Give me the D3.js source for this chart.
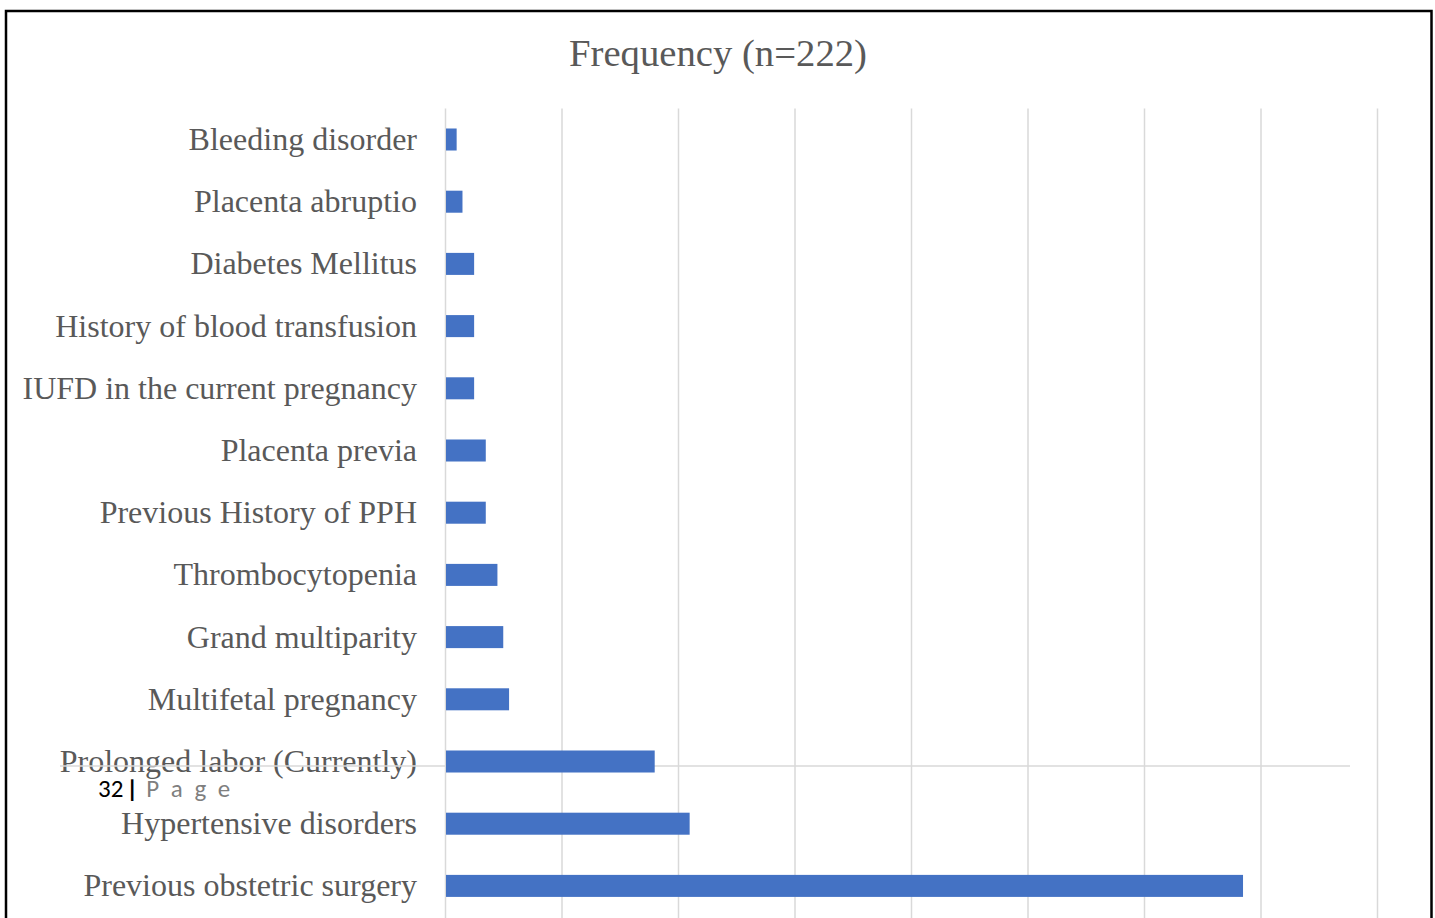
<!DOCTYPE html>
<html>
<head>
<meta charset="utf-8">
<script src="https://cdnjs.cloudflare.com/ajax/libs/d3/7.8.5/d3.min.js"></script>
<style>
  html, body { margin: 0; padding: 0; background: #fff; overflow: hidden; }
</style>
</head>
<body>
<div id="graphique"></div>
<script>
//----------------------------------------------------------------
// donnees du graphique
var titre = "Frequency (n=222)";
var categories = [
  "Bleeding disorder",
  "Placenta abruptio",
  "Diabetes Mellitus",
  "History of blood transfusion",
  "IUFD in the current pregnancy",
  "Placenta previa",
  "Previous History of PPH",
  "Thrombocytopenia",
  "Grand multiparity",
  "Multifetal pregnancy",
  "Prolonged labor (Currently)",
  "Hypertensive disorders",
  "Previous obstetric surgery"
];
var frequences = [2, 3, 5, 5, 5, 7, 7, 9, 10, 11, 36, 42, 137];
var graduations = [0, 20, 40, 60, 80, 100, 120, 140, 160];
var piedDePage = ["32", "|", "P a g e"];

//----------------------------------------------------------------
// svg
var largeur = 1435, hauteur = 918;
var svg = d3.select("#graphique")
  .append("svg")
  .attr("width", largeur)
  .attr("height", hauteur);

var marge = {gauche: 445, droite: 1377, haut: 108.4, bas: 917};

var x = d3.scaleLinear()
  .domain([0, 160])
  .range([marge.gauche, marge.droite]);

var y = d3.scaleBand()
  .domain(categories)
  .range([marge.haut, marge.bas])
  .paddingInner(0.646)
  .paddingOuter(0.323);

// cadre
svg.append("rect")
  .attr("x", 6)
  .attr("y", 11)
  .attr("width", 1425.5)
  .attr("height", 940)
  .attr("fill", "none")
  .attr("stroke", "#000")
  .attr("stroke-width", 2.5);

// titre
svg.append("text")
  .attr("x", 718)
  .attr("y", 66)
  .attr("text-anchor", "middle")
  .attr("font-family", "Liberation Serif, Times New Roman, serif")
  .attr("font-size", "38.7px")
  .attr("fill", "#595959")
  .text(titre);

// grille verticale
svg.append("g")
  .attr("transform", "translate(0," + marge.haut + ")")
  .call(d3.axisBottom(x).tickValues(graduations).tickSize(hauteur).tickFormat(""))
  .call(function(g){ g.select(".domain").remove(); })
  .selectAll("line")
  .attr("stroke", "#d9d9d9")
  .attr("stroke-width", 1.5);

// labels des categories
svg.append("g")
  .attr("transform", "translate(" + (x(0) - 28) + ",0)")
  .call(d3.axisLeft(y).tickSize(0).tickPadding(0))
  .call(function(g){ g.select(".domain").remove(); })
  .selectAll("text")
  .attr("font-family", "Liberation Serif, Times New Roman, serif")
  .attr("font-size", "32px")
  .attr("fill", "#595959")
  .attr("dy", "0.33em");

// ligne du pied de page qui traverse le graphique
svg.append("line")
  .attr("x1", 60)
  .attr("x2", 1350)
  .attr("y1", 766)
  .attr("y2", 766)
  .attr("stroke", "#d9d9d9")
  .attr("stroke-width", 1.5);

// barres
svg.selectAll(".barre")
  .data(frequences)
  .enter()
  .append("rect")
  .attr("class", "barre")
  .attr("x", x(0) + 1)
  .attr("y", function(d, i){ return y(categories[i]); })
  .attr("width", function(d){ return x(d) - x(0) - 1; })
  .attr("height", y.bandwidth())
  .attr("fill", "#4472c4");

// numero de page
var pied = svg.append("text")
  .attr("x", 98)
  .attr("y", 797)
  .attr("font-family", "Carlito, Noto Sans, sans-serif")
  .attr("font-size", "25px");
pied.append("tspan").attr("fill", "#000").text(piedDePage[0]);
pied.append("tspan").attr("fill", "#000").attr("font-weight", "bold").attr("dx", 3).text(piedDePage[1]);
pied.append("tspan").attr("fill", "#7f7f7f").attr("dx", 8).attr("letter-spacing", "3px").text(piedDePage[2]);
</script>
</body>
</html>
